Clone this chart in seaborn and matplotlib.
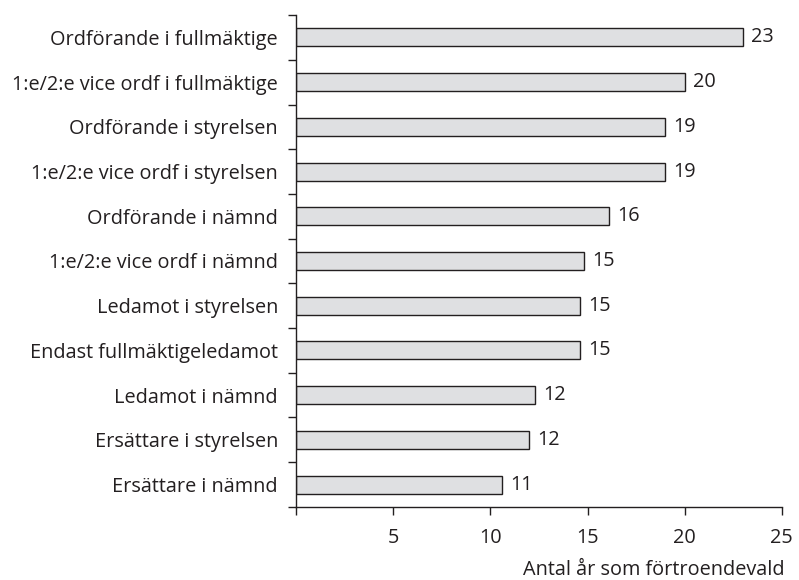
import numpy as np
import pandas as pd
import seaborn as sns
import matplotlib.pyplot as plt

# Data
roles = [
    'Ordförande i fullmäktige',
    '1:e/2:e vice ordf i fullmäktige',
    'Ordförande i styrelsen',
    '1:e/2:e vice ordf i styrelsen',
    'Ordförande i nämnd',
    '1:e/2:e vice ordf i nämnd',
    'Ledamot i styrelsen',
    'Endast fullmäktigeledamot',
    'Ledamot i nämnd',
    'Ersättare i styrelsen',
    'Ersättare i nämnd',
]
years = [23.0, 20.0, 19.0, 19.0, 16.1, 14.8, 14.6, 14.6, 12.3, 12.0, 10.6]
x_ticks = [0, 5, 10, 15, 20, 25]
x_ticklabels = ['', '5', '10', '15', '20', '25']

df = pd.DataFrame({'Roll': roles, 'År': years})

sns.set_style('white')
plt.rcParams['font.family'] = ['Open Sans', 'DejaVu Sans']
ink = '#231f20'
fs = 14.3

fig = plt.figure(figsize=(7.99, 5.80), dpi=100)
ax = fig.add_axes([0.3705, 0.126, 0.608, 0.848])

sns.barplot(data=df, x='År', y='Roll', orient='h', color='#dfe0e2',
            edgecolor=ink, linewidth=1.0, width=0.4, saturation=1, ax=ax)

# value labels
ax.bar_label(ax.containers[0], labels=[f'{v:.0f}' for v in years],
             padding=6, fontsize=fs, color=ink)

ax.set_xlim(0, 25)
ax.set_ylim(len(roles) - 0.5, -0.5)
ax.set_xticks(x_ticks)
ax.set_xticklabels(x_ticklabels)

# y ticks between categories
ax.set_yticks(np.arange(len(roles)), minor=False)
ax.set_yticks(np.arange(-0.5, len(roles)), minor=True)
ax.tick_params(axis='y', which='major', length=0, pad=13, labelsize=fs, labelcolor=ink)
ax.tick_params(axis='y', which='minor', left=True, length=6, width=1, color=ink)
ax.tick_params(axis='x', bottom=True, length=6, width=1, color=ink, pad=9,
               labelsize=fs, labelcolor=ink)

for side in ['top', 'right']:
    ax.spines[side].set_visible(False)
for side in ['left', 'bottom']:
    ax.spines[side].set_color(ink)
    ax.spines[side].set_linewidth(1)

ax.set_ylabel('')
ax.set_xlabel('Antal år som förtroendevald', fontsize=fs, color=ink)
ax.xaxis.set_label_coords(1.005, -0.128)
ax.xaxis.label.set_horizontalalignment('right')
ax.xaxis.label.set_verticalalignment('center')

fig.savefig('out.png', dpi=100)
